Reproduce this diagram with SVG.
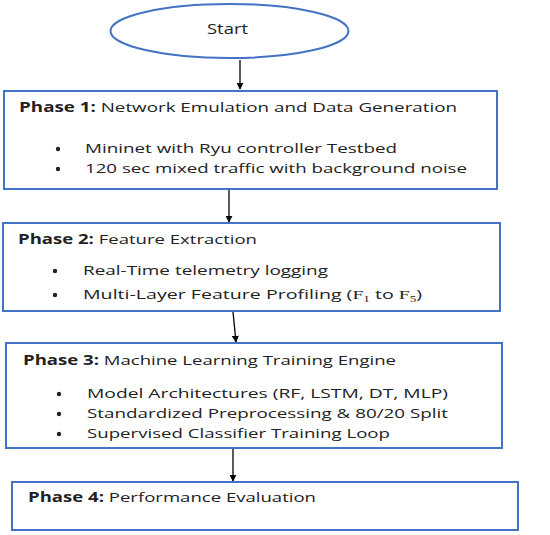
<svg xmlns="http://www.w3.org/2000/svg" width="550" height="535" viewBox="0 0 550 535">
<defs>
<marker id="ah" viewBox="0 0 10 10" refX="9" refY="5" markerWidth="7" markerHeight="7" orient="auto" markerUnits="userSpaceOnUse">
<path d="M0,0 L10,5 L0,10 z" fill="#000"/>
</marker>
<style>
.box{fill:#fff;stroke:#4472C4;stroke-width:2}
.t{font-family:"Open Sans","Liberation Sans",sans-serif;font-size:13.5px;fill:#222}
.b{font-weight:bold}
.c{stroke:#000;stroke-width:1.3;fill:none;marker-end:url(#ah)}
.m{font-family:"Liberation Serif",serif}
.dot{fill:#222}
</style>
</defs>
<rect width="550" height="535" fill="#fff"/>
<g id="connectors">
<line class="c" x1="240" y1="60" x2="240" y2="89"/>
<line class="c" x1="229" y1="190" x2="229" y2="222"/>
<line class="c" x1="233" y1="312" x2="236" y2="342"/>
<line class="c" x1="233" y1="449" x2="233" y2="481"/>
</g>
<g id="start">
<ellipse class="box" cx="229.5" cy="31" rx="119" ry="27"/>
<text class="t" x="207" y="34" font-size="15" textLength="41" lengthAdjust="spacingAndGlyphs" style="font-size:15px">Start</text>
</g>
<g id="phase1">
<rect class="box" x="4" y="91" width="493" height="98"/>
<text class="t" x="19" y="112" textLength="438" lengthAdjust="spacingAndGlyphs"><tspan class="b">Phase 1:</tspan> Network Emulation and Data Generation</text>
<circle class="dot" cx="58" cy="149" r="2.2"/>
<text class="t" x="85" y="153" textLength="312" lengthAdjust="spacingAndGlyphs">Mininet with Ryu controller Testbed</text>
<circle class="dot" cx="58" cy="169" r="2.2"/>
<text class="t" x="85" y="173" textLength="382" lengthAdjust="spacingAndGlyphs">120 sec mixed traffic with background noise</text>
</g>
<g id="phase2">
<rect class="box" x="3" y="223" width="497" height="88"/>
<text class="t" x="18" y="244" textLength="239" lengthAdjust="spacingAndGlyphs"><tspan class="b">Phase 2:</tspan> Feature Extraction</text>
<circle class="dot" cx="55" cy="271" r="2.2"/>
<text class="t" x="83" y="275" textLength="245" lengthAdjust="spacingAndGlyphs">Real-Time telemetry logging</text>
<circle class="dot" cx="55" cy="295" r="2.2"/>
<text class="t" x="83" y="299" textLength="339" lengthAdjust="spacingAndGlyphs">Multi-Layer Feature Profiling (<tspan class="m">F</tspan><tspan class="m" font-size="9" dy="3">1</tspan><tspan dy="-3"> to </tspan><tspan class="m">F</tspan><tspan class="m" font-size="9" dy="3">5</tspan><tspan dy="-3">)</tspan></text>
</g>
<g id="phase3">
<rect class="box" x="6" y="343" width="496" height="105"/>
<text class="t" x="23" y="365" textLength="373" lengthAdjust="spacingAndGlyphs"><tspan class="b">Phase 3:</tspan> Machine Learning Training Engine</text>
<circle class="dot" cx="59" cy="394" r="2.2"/>
<text class="t" x="87" y="398" textLength="361" lengthAdjust="spacingAndGlyphs">Model Architectures (RF, LSTM, DT, MLP)</text>
<circle class="dot" cx="59" cy="414" r="2.2"/>
<text class="t" x="87" y="418" textLength="361" lengthAdjust="spacingAndGlyphs">Standardized Preprocessing &amp; 80/20 Split</text>
<circle class="dot" cx="59" cy="434" r="2.2"/>
<text class="t" x="87" y="438" textLength="303" lengthAdjust="spacingAndGlyphs">Supervised Classifier Training Loop</text>
</g>
<g id="phase4">
<rect class="box" x="12" y="482" width="506" height="48"/>
<text class="t" x="28" y="502" textLength="288" lengthAdjust="spacingAndGlyphs"><tspan class="b">Phase 4:</tspan> Performance Evaluation</text>
</g>
</svg>
